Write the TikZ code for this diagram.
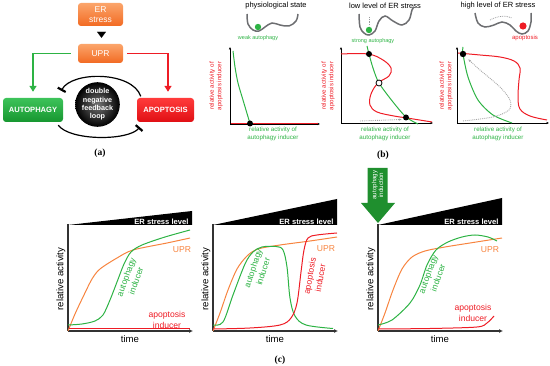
\documentclass[tikz,border=0pt]{standalone}
\usepackage{fontspec}
\setmainfont{Liberation Sans}
\newfontfamily\panelfont{Liberation Serif}
\usetikzlibrary{arrows.meta}

\definecolor{orangeTop}{HTML}{FBA56B}
\definecolor{orangeBot}{HTML}{F26A22}
\definecolor{greenTop}{HTML}{3DC35A}
\definecolor{greenBot}{HTML}{16962F}
\definecolor{redTop}{HTML}{FF3B3B}
\definecolor{redBot}{HTML}{E00F14}
\definecolor{uprOrange}{HTML}{F7843F}
\definecolor{autoGreen}{HTML}{2DB344}
\definecolor{apoRed}{HTML}{EE1C25}
\definecolor{landGray}{HTML}{6D6E71}
\definecolor{arrowGreen}{HTML}{1F8F2E}

\tikzset{
  box/.style={rounded corners=3pt, text=white, align=center, inner sep=0pt},
  orangebox/.style={box, top color=orangeTop, bottom color=orangeBot,
    minimum width=45pt, font=\fontsize{8.5}{10}\selectfont},
  fatebox/.style={box, minimum height=24pt, font=\bfseries\fontsize{7.6}{9}\selectfont},
  inhibit/.style={line width=1.2pt, -{Bar[width=9pt,line width=2.2pt]}},
  axis/.style={line width=0.7pt, -{Latex[length=2.5pt,width=2.5pt]}},
  caxis/.style={line width=1.3pt, draw=black!80},
  landscape/.style={draw=landGray, line width=1.5pt, smooth, tension=0.6},
  title/.style={font=\fontsize{7.5}{9}\selectfont},
  small/.style={font=\fontsize{5.5}{6.5}\selectfont},
  axlabel/.style={font=\fontsize{6.2}{7.6}\selectfont, align=center},
  curvelabel/.style={font=\fontsize{8.6}{10.6}\selectfont, align=center},
  biglabel/.style={font=\fontsize{9.6}{11}\selectfont},
  panel/.style={font=\panelfont\bfseries\fontsize{9.5}{11}\selectfont}
}

\begin{document}
\begin{tikzpicture}[x=1pt,y=-1pt]
  \useasboundingbox (0,0) rectangle (550,366);

  % ---------- (a) signalling scheme ----------
  \node[orangebox, minimum height=23pt] (erNode) at (100.5,14.5) {ER\\stress};
  \node[orangebox, minimum height=19pt] (uprNode) at (100.5,53.5) {UPR};
  \node[fatebox, top color=greenTop, bottom color=greenBot, minimum width=60pt]
    (autoNode) at (33,110) {AUTOPHAGY};
  \node[fatebox, top color=redTop, bottom color=redBot, minimum width=57pt]
    (apoNode) at (165.5,110) {APOPTOSIS};
  \node[circle, minimum size=43pt, inner sep=0pt, inner color=black!55, outer color=black,
    text=white, align=center, font=\bfseries\fontsize{7.2}{8.4}\selectfont]
    (loopNode) at (97.5,104.5) {double\\negative\\feedback\\loop};

  % ER stress activates UPR
  \draw[-{Triangle[length=6pt,width=9pt]}, line width=0.1pt, shorten <=6pt, shorten >=6pt]
    ([xshift=1pt]erNode.south) -- ([xshift=1pt]uprNode.north);

  % UPR branches to both fates
  \draw[autoGreen, line width=1.3pt, -{Triangle[length=6pt,width=7pt]}, shorten <=7pt, shorten >=6pt]
    (uprNode.west) -| (autoNode.north);
  \draw[apoRed, line width=1.3pt, -{Triangle[length=6pt,width=7pt]}, shorten <=4pt, shorten >=6pt]
    (uprNode.east) -| ([xshift=2.5pt]apoNode.north);

  % mutual inhibition
  \draw[inhibit] ([xshift=4pt,yshift=1.5pt]apoNode.north west)
    .. controls (132,71) and (72,71) .. ([xshift=-2pt,yshift=7pt]autoNode.north east);
  \draw[inhibit] ([xshift=-5pt,yshift=-3pt]autoNode.south east)
    .. controls (70,141) and (128,141) .. ([xshift=3pt,yshift=-5pt]apoNode.south west);

  \node[panel] (capA) at (100,153) {(a)};

  % ---------- (b) phase planes ----------
  % physiological state
  \node[title] (titleB1) at (276,6) {physiological state};
  \draw[landscape] plot coordinates {(247,14) (248,24) (253,30) (259,31) (265,27)
    (272,23) (280,25) (289,26) (296,21) (298,14)};
  \fill[autoGreen] (258,27) circle (3.2);
  \node[small, text=autoGreen] (weakLbl) at (258,38) {weak autophagy};
  \draw[axis] (230,124) -- (230,47);
  \draw[axis] (230,124) -- (320,124);
  \draw[apoRed, line width=1pt] (230.5,123.5) -- (318,123.5);
  \draw[autoGreen, line width=1pt] plot[smooth] coordinates {(233,51) (235,67) (238,83) (243,100) (250,123.5)};
  \fill (250,123.5) circle (3);
  \node[axlabel, text=apoRed, rotate=90] (yLblB1) at (216,86) {relative activity of\\apoptosis inducer};
  \node[axlabel, text=autoGreen] (xLblB1) at (273,134) {relative activity of\\autophagy inducer};

  % low level of ER stress
  \node[title] (titleB2) at (385,6) {low level of ER stress};
  \draw[landscape] plot coordinates {(359,14) (360,27) (364,33) (369,35) (375,31)
    (379,21) (385,16) (393,21) (402,25) (409,20) (412,10) (414,7)};
  \draw[landGray!70, densely dotted, line width=0.8pt] (369,17) -- (369,26);
  \fill[autoGreen] (369,30) circle (3.2);
  \node[small, text=autoGreen] (strongLbl) at (373,41) {strong autophagy};
  \draw[axis] (341,123) -- (341,47);
  \draw[axis] (341,123) -- (433,123);
  \draw[apoRed, line width=1pt] plot[smooth, tension=0.6] coordinates {(341,54) (368,54) (383,60) (391,68)
    (389,76) (378,83) (371,94) (370,105) (377,112) (394,116) (407,118) (432,122)};
  \draw[autoGreen, line width=1pt] plot[smooth] coordinates {(367,46) (369,54) (373,68) (379,83)
    (393,102) (406,117) (418,124)};
  \draw[black!35, densely dotted, line width=0.9pt, -{Latex[length=3pt]}] (360,121) -- (402,119.5);
  \fill (369,54) circle (3);
  \draw[fill=white, line width=0.8pt] (379,83) circle (3);
  \fill (406,117.5) circle (3);
  \node[axlabel, text=apoRed, rotate=90] (yLblB2) at (328,86) {relative activity of\\apoptosis inducer};
  \node[axlabel, text=autoGreen] (xLblB2) at (385,134) {relative activity of\\autophagy inducer};
  \node[panel] (capB) at (383,155) {(b)};

  % high level of ER stress
  \node[title] (titleB3) at (498,6) {high level of ER stress};
  \draw[landscape] plot coordinates {(475,13) (478,23) (485,27) (494,25) (502,22)
    (510,25) (516,31) (522,34) (528,31) (531,22) (531,13)};
  \draw[landGray!70, densely dotted, line width=0.8pt] (490,20) .. controls (497,16) and (506,15) .. (512,18);
  \fill[apoRed] (523,26) circle (3.6);
  \node[small, text=apoRed, font=\fontsize{6}{7}\selectfont] (apoLbl) at (525,38) {apoptosis};
  \draw[axis] (457,123) -- (457,47);
  \draw[axis] (457,123) -- (549,123);
  \draw[apoRed, line width=1pt] plot[smooth, tension=0.6] coordinates {(458,53) (480,55) (500,57)
    (514,61) (520,68) (519,80) (518,97) (520,109) (530,116) (547,120)};
  \draw[autoGreen, line width=1pt] plot[smooth] coordinates {(463,47) (463,54) (468,77) (478,100)
    (493,115) (512,123)};
  \draw[black!35, densely dotted, line width=0.9pt, -{Latex[length=3pt]}] plot[smooth]
    coordinates {(463,121) (493,117) (509,110) (510,100) (500,87) (480,70) (468,59)};
  \fill (463,54) circle (3.2);
  \node[axlabel, text=apoRed, rotate=90] (yLblB3) at (446,86) {relative activity of\\apoptosis inducer};
  \node[axlabel, text=autoGreen] (xLblB3) at (498,134) {relative activity of\\autophagy inducer};

  % ---------- (c) time courses ----------
  % low stress
  \fill (68,225) -- (192,211) -- (192,225) -- cycle;
  \node[anchor=east, text=white, font=\bfseries\fontsize{7.6}{9}\selectfont] (stressC1) at (192,221.5) {ER stress level};
  \draw[caxis] (68,224) -- (68,331);
  \draw[caxis, -{Latex[length=4pt,width=4pt]}] (67.5,331) -- (193,331);
  \draw[uprOrange, line width=1pt] plot[smooth] coordinates {(68,331) (75,314) (83,297) (92,279) (100,269)
    (117,258) (133,250) (167,243) (190,238)};
  \draw[autoGreen, line width=1pt] plot[smooth] coordinates {(68,325) (82,324) (95,321) (103,315)
    (110,300) (117,282) (124,264) (131,252) (142,245) (165,237) (190,230)};
  \draw[apoRed, line width=1pt] (68.5,329) -- (190,329);
  \node[curvelabel, text=uprOrange] (uprC1) at (182,250) {UPR};
  \node[curvelabel, text=autoGreen, rotate=70] (autoC1) at (131,279) {autophagy\\inducer};
  \node[curvelabel, text=apoRed] (apoC1) at (167,320) {apoptosis\\inducer};
  \node[biglabel, rotate=90] (relC1) at (61,279) {relative activity};
  \node[biglabel] (timeC1) at (130,339) {time};

  % high stress
  \fill (213,225) -- (337,199) -- (337,225) -- cycle;
  \node[anchor=east, text=white, font=\bfseries\fontsize{7.6}{9}\selectfont] (stressC2) at (337,221.5) {ER stress level};
  \draw[caxis] (213,224) -- (213,331);
  \draw[caxis, -{Latex[length=4pt,width=4pt]}] (212.5,331) -- (338,331);
  \draw[uprOrange, line width=1pt] plot[smooth] coordinates {(213,331) (220,313) (228,290) (237,269)
    (247,256) (258,249) (280,245) (310,241) (337,237)};
  \draw[autoGreen, line width=1pt] plot[smooth, tension=0.55] coordinates {(213,325) (223,322) (233,295)
    (245,264) (253,252) (262,247) (276,246.5) (283,250) (287,267) (290,298) (295,316)
    (306,325) (333,328.5)};
  \draw[apoRed, line width=1pt] plot[smooth, tension=0.55] coordinates {(213,329) (250,328) (280,325)
    (291,318) (297,303) (301,272) (304,250) (308,238) (317,235) (337,233)};
  \node[curvelabel, text=uprOrange] (uprC2) at (326,249) {UPR};
  \node[curvelabel, text=autoGreen, rotate=72] (autoC2) at (258,270) {autophagy\\inducer};
  \node[curvelabel, text=apoRed, rotate=80] (apoC2) at (315,277) {apoptosis\\inducer};
  \node[biglabel, rotate=90] (relC2) at (206,279) {relative activity};
  \node[biglabel] (timeC2) at (275,339) {time};
  \node[panel] (capC) at (280,360) {(c)};

  % high stress with autophagy induction
  \fill (378,225) -- (502,198) -- (502,225) -- cycle;
  \node[anchor=east, text=white, font=\bfseries\fontsize{7.6}{9}\selectfont] (stressC3) at (502,221.5) {ER stress level};
  \fill[arrowGreen] (367.5,168) -- (387.5,168) -- (387.5,203) -- (395,203) -- (378,223)
    -- (361,203) -- (367.5,203) -- cycle;
  \node[rotate=90, text=white, align=center, font=\fontsize{6.2}{6.8}\selectfont]
    (induceC3) at (377.5,185) {autophagy\\induction};
  \draw[caxis] (378,224) -- (378,331);
  \draw[caxis, -{Latex[length=4pt,width=4pt]}] (377.5,331) -- (503,331);
  \draw[uprOrange, line width=1pt] plot[smooth] coordinates {(378,331) (385,313) (393,290) (402,269)
    (412,257) (425,251) (445,247) (470,243) (502,238)};
  \draw[autoGreen, line width=1pt] plot[smooth] coordinates {(378,325) (392,320) (410,303) (420,285)
    (427,265) (436,250) (448,242) (462,237) (475,235) (488,237) (497,241)};
  \draw[apoRed, line width=1pt] plot[smooth] coordinates {(378,329) (430,328.5) (477,327) (487,323) (494,316)};
  \node[curvelabel, text=uprOrange] (uprC3) at (490,250) {UPR};
  \node[curvelabel, text=autoGreen, rotate=70] (autoC3) at (433,276) {autophagy\\inducer};
  \node[curvelabel, text=apoRed] (apoC3) at (473,313) {apoptosis\\inducer};
  \node[biglabel, rotate=90] (relC3) at (371,279) {relative activity};
  \node[biglabel] (timeC3) at (440,339) {time};
\end{tikzpicture}
\end{document}
